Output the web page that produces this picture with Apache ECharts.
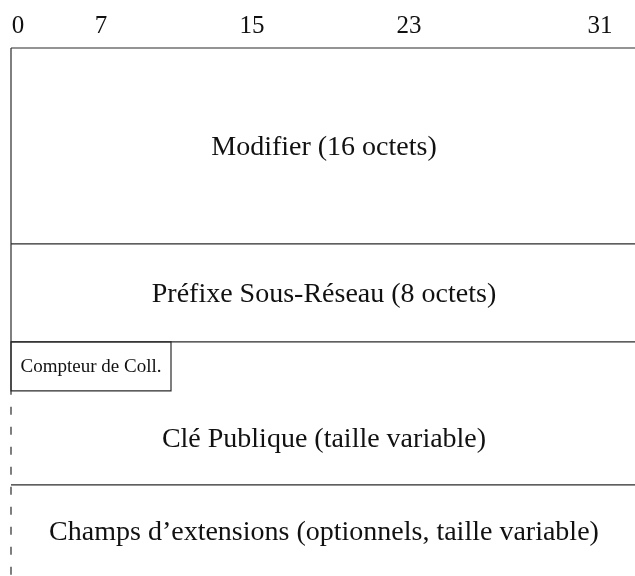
<!DOCTYPE html>
<html>
<head>
<meta charset="utf-8">
<script src="https://cdn.jsdelivr.net/npm/echarts@6/dist/echarts.min.js"></script>
<style>html,body{margin:0;padding:0;background:#fff;}#c{width:635px;height:576px;}</style>
</head>
<body>
<div id="c"></div>
<script>
// Bit header labels and where they sit along the 32-bit axis
const tickLabels = ['0', '7', '15', '23', '31'];
const tickAt = [0.35, 4.5, 12.05, 19.9, 29.45];

// Fields (rows of 32 bits)
const fieldNames = [
  'Modifier (16 octets)',
  'Préfixe Sous-Réseau (8 octets)',
  'Clé Publique (taille variable)',
  'Champs d\u2019extensions (optionnels, taille variable)'
];
const fieldStartRow = [0, 4, 6, 8.92];
const fieldEndRow = [4, 6, 8.92, 10.78];
const fieldLabelFromRow = [0, 4, 7, 8.92];

// Small counter field inside the public key area
const counterName = 'Compteur de Coll.';
const counterBits = [0, 8];
const counterRows = [6, 7];

// Left border: fixed part solid, variable part dashed
const borderRows = [[0, 7, 'solid'], [7, 10.78, 'dashed']];

const TOTAL_BITS = 32;
const VISIBLE_BITS = 31.2;
const VISIBLE_ROWS = 10.78;
const FONT = '"Liberation Serif", "DejaVu Serif", serif';
const LINE = '#2a2a2a';

const chart = echarts.init(document.getElementById('c'), null, {renderer: 'canvas'});

const option = {
  backgroundColor: '#ffffff',
  animation: false,
  grid: {left: 11, top: 48, right: 0, bottom: 0},
  xAxis: {type: 'value', min: 0, max: VISIBLE_BITS, show: false},
  yAxis: {type: 'value', min: 0, max: VISIBLE_ROWS, inverse: true, show: false},
  series: [
    {
      type: 'custom',
      clip: false,
      data: fieldNames.map((n, i) => [fieldStartRow[i], fieldEndRow[i], fieldLabelFromRow[i], i]),
      renderItem: function (params, api) {
        const s = api.value(0), e = api.value(1), lf = api.value(2), idx = api.value(3);
        const p0 = api.coord([0, s]);
        const p1 = api.coord([TOTAL_BITS, s]);
        const c = api.coord([TOTAL_BITS / 2, (lf + e) / 2]);
        const visibleCenterX = (p0[0] + api.getWidth()) / 2 + 1;
        return {
          type: 'group',
          children: [
            {type: 'line', shape: {x1: p0[0], y1: p0[1], x2: p1[0], y2: p1[1]},
             style: {stroke: LINE, lineWidth: 1.2}},
            {type: 'text', x: visibleCenterX, y: c[1] + 2,
             style: {text: fieldNames[idx], font: '28px ' + FONT, fill: '#111',
                     align: 'center', verticalAlign: 'middle'}}
          ]
        };
      }
    },
    {
      type: 'custom',
      clip: false,
      data: borderRows.map(b => [b[0], b[1], b[2] === 'dashed' ? 1 : 0]),
      renderItem: function (params, api) {
        const a = api.coord([0, api.value(0)]);
        const b = api.coord([0, api.value(1)]);
        const dashed = api.value(2) === 1;
        return {
          type: 'line',
          shape: {x1: a[0], y1: a[1], x2: b[0], y2: b[1]},
          style: dashed
            ? {stroke: LINE, lineWidth: 1.2, lineDash: [8, 12], lineDashOffset: 4}
            : {stroke: LINE, lineWidth: 1.2}
        };
      }
    },
    {
      type: 'custom',
      clip: false,
      data: [[counterBits[0], counterRows[0], counterBits[1], counterRows[1]]],
      renderItem: function (params, api) {
        const a = api.coord([api.value(0), api.value(1)]);
        const b = api.coord([api.value(2), api.value(3)]);
        return {
          type: 'group',
          children: [
            {type: 'rect', shape: {x: a[0], y: a[1], width: b[0] - a[0], height: b[1] - a[1]},
             style: {fill: 'none', stroke: LINE, lineWidth: 1.2}},
            {type: 'text', x: (a[0] + b[0]) / 2, y: (a[1] + b[1]) / 2 + 1,
             style: {text: counterName, font: '19px ' + FONT, fill: '#111',
                     align: 'center', verticalAlign: 'middle'}}
          ]
        };
      }
    },
    {
      type: 'custom',
      clip: false,
      data: tickLabels.map((t, i) => [tickAt[i], i]),
      renderItem: function (params, api) {
        const p = api.coord([api.value(0), -0.44]);
        return {
          type: 'text', x: p[0], y: p[1],
          style: {text: tickLabels[api.value(1)], font: '25px ' + FONT, fill: '#111',
                  align: 'center', verticalAlign: 'middle'}
        };
      }
    }
  ]
};
chart.setOption(option);
</script>
</body>
</html>
